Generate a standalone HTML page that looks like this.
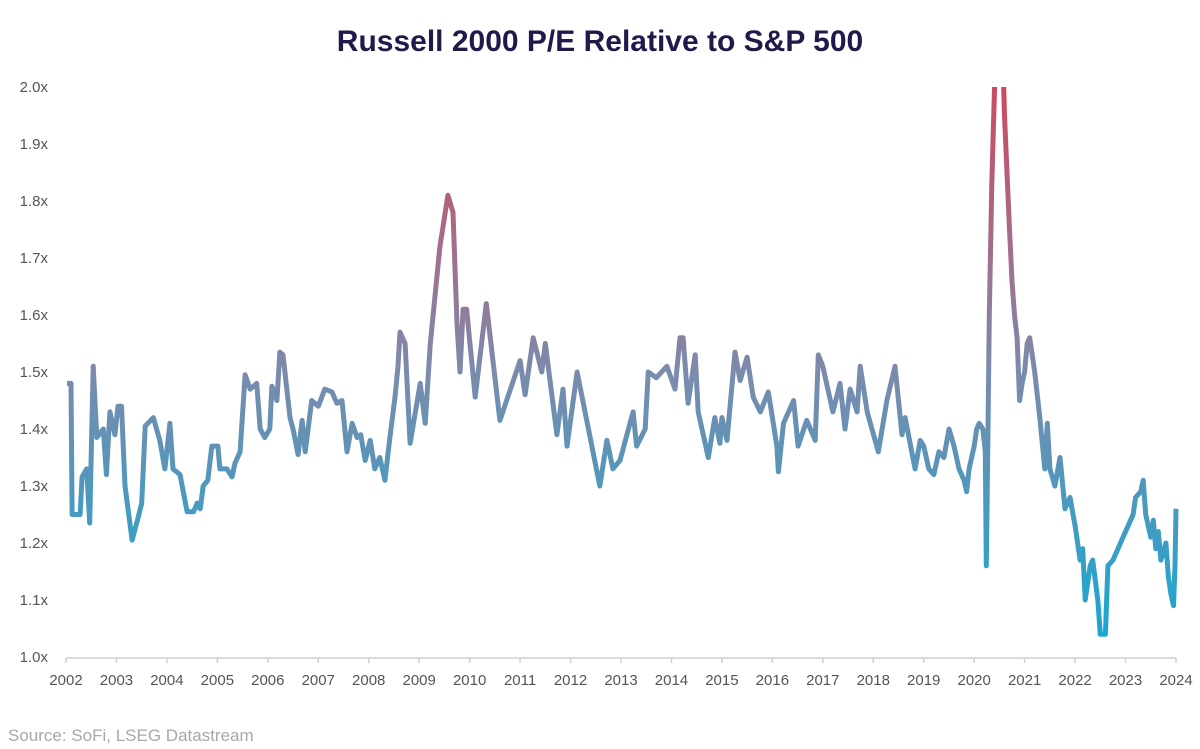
<!DOCTYPE html>
<html><head><meta charset="utf-8"><style>
body{margin:0;background:#fff;}
svg{display:block;font-family:"Liberation Sans",sans-serif;}
</style></head><body>
<svg id="chart" width="1200" height="749">
<defs>
<linearGradient id="lg" gradientUnits="userSpaceOnUse" x1="0" y1="87" x2="0" y2="657">
<stop offset="0" stop-color="#cc4a5e"/>
<stop offset="0.3" stop-color="#a0708f"/>
<stop offset="0.5" stop-color="#7b8bac"/>
<stop offset="1" stop-color="#12aad4"/>
</linearGradient>
<clipPath id="cp"><rect x="60" y="87" width="1130" height="575"/></clipPath>
</defs>
<text x="600" y="51" text-anchor="middle" font-size="30" font-weight="bold" fill="#1e1b4b">Russell 2000 P/E Relative to S&amp;P 500</text>
<g id="yaxis"></g>
<g id="xaxis"></g>
<g clip-path="url(#cp)"><path id="line" fill="none" stroke="url(#lg)" stroke-width="5" stroke-linejoin="round"/></g>
<text x="8" y="741" font-size="17" fill="#a8a8a8">Source: SoFi, LSEG Datastream</text>
</svg>
<script>
const yTicks=[1.0,1.1,1.2,1.3,1.4,1.5,1.6,1.7,1.8,1.9,2.0];
const years=[2002,2003,2004,2005,2006,2007,2008,2009,2010,2011,2012,2013,2014,2015,2016,2017,2018,2019,2020,2021,2022,2023,2024];
const dates=[2002.02,2002.1,2002.12,2002.28,2002.32,2002.41,2002.47,2002.54,2002.61,2002.74,2002.8,2002.87,2002.97,2003.03,2003.1,2003.17,2003.31,2003.43,2003.5,2003.57,2003.73,2003.86,2003.96,2004.06,2004.12,2004.26,2004.4,2004.53,2004.6,2004.66,2004.72,2004.81,2004.89,2005.01,2005.05,2005.19,2005.29,2005.35,2005.45,2005.55,2005.65,2005.78,2005.85,2005.94,2006.04,2006.08,2006.18,2006.24,2006.3,2006.44,2006.5,2006.6,2006.68,2006.74,2006.87,2007.0,2007.13,2007.27,2007.37,2007.47,2007.57,2007.67,2007.77,2007.84,2007.93,2008.03,2008.12,2008.22,2008.32,2008.42,2008.52,2008.58,2008.62,2008.72,2008.82,2009.02,2009.12,2009.22,2009.41,2009.57,2009.67,2009.75,2009.81,2009.87,2009.94,2010.11,2010.33,2010.6,2011.0,2011.1,2011.26,2011.43,2011.5,2011.73,2011.85,2011.93,2012.13,2012.58,2012.72,2012.84,2012.98,2013.24,2013.31,2013.48,2013.54,2013.7,2013.91,2014.07,2014.17,2014.23,2014.33,2014.47,2014.53,2014.73,2014.86,2014.96,2015.0,2015.1,2015.26,2015.36,2015.5,2015.62,2015.76,2015.92,2016.09,2016.12,2016.22,2016.42,2016.51,2016.68,2016.85,2016.91,2017.0,2017.2,2017.34,2017.44,2017.54,2017.68,2017.74,2017.88,2018.1,2018.27,2018.43,2018.57,2018.63,2018.83,2018.93,2019.0,2019.1,2019.2,2019.3,2019.4,2019.5,2019.6,2019.7,2019.8,2019.85,2019.9,2020.0,2020.05,2020.1,2020.17,2020.22,2020.24,2020.27,2020.3,2020.35,2020.38,2020.42,2020.57,2020.6,2020.65,2020.7,2020.75,2020.8,2020.85,2020.9,2020.95,2021.0,2021.05,2021.1,2021.15,2021.2,2021.3,2021.4,2021.45,2021.5,2021.6,2021.7,2021.8,2021.9,2022.0,2022.1,2022.15,2022.2,2022.3,2022.35,2022.45,2022.5,2022.6,2022.65,2022.75,2022.85,2022.95,2023.05,2023.15,2023.2,2023.3,2023.35,2023.4,2023.5,2023.55,2023.6,2023.65,2023.7,2023.8,2023.85,2023.9,2023.95,2023.98,2024.0];
const values=[1.48,1.48,1.25,1.25,1.316,1.33,1.235,1.51,1.385,1.40,1.32,1.43,1.39,1.44,1.44,1.30,1.205,1.245,1.27,1.405,1.42,1.38,1.33,1.41,1.33,1.32,1.255,1.255,1.27,1.26,1.30,1.31,1.37,1.37,1.33,1.33,1.316,1.34,1.36,1.495,1.47,1.48,1.40,1.385,1.40,1.475,1.45,1.535,1.53,1.42,1.40,1.355,1.415,1.36,1.45,1.44,1.47,1.465,1.445,1.45,1.36,1.41,1.385,1.39,1.345,1.38,1.33,1.35,1.31,1.385,1.456,1.51,1.57,1.55,1.375,1.48,1.41,1.55,1.72,1.81,1.78,1.585,1.50,1.61,1.61,1.456,1.62,1.415,1.52,1.46,1.56,1.50,1.55,1.39,1.47,1.37,1.50,1.30,1.38,1.33,1.345,1.43,1.37,1.40,1.50,1.49,1.51,1.47,1.56,1.56,1.445,1.53,1.43,1.35,1.42,1.375,1.42,1.38,1.535,1.485,1.526,1.456,1.43,1.465,1.37,1.325,1.41,1.45,1.37,1.415,1.38,1.53,1.51,1.43,1.48,1.40,1.47,1.43,1.51,1.43,1.36,1.45,1.51,1.39,1.42,1.33,1.38,1.37,1.33,1.32,1.36,1.35,1.40,1.37,1.33,1.31,1.29,1.33,1.37,1.40,1.41,1.40,1.36,1.16,1.37,1.60,1.83,1.93,2.05,2.05,1.95,1.85,1.75,1.66,1.60,1.56,1.45,1.48,1.50,1.55,1.56,1.53,1.50,1.42,1.33,1.41,1.33,1.30,1.35,1.26,1.28,1.23,1.17,1.19,1.10,1.16,1.17,1.10,1.04,1.04,1.16,1.17,1.19,1.21,1.23,1.25,1.28,1.29,1.31,1.25,1.21,1.24,1.19,1.22,1.17,1.20,1.14,1.11,1.09,1.16,1.26];
const X=t=>66+(t-2002)*(1176-66)/22;
const Y=v=>657-(v-1)*570;
const NS='http://www.w3.org/2000/svg';
const ya=document.getElementById('yaxis'), xa=document.getElementById('xaxis');
yTicks.forEach(v=>{
 const t=document.createElementNS(NS,'text');
 t.setAttribute('x',48);t.setAttribute('y',Y(v)+5);t.setAttribute('text-anchor','end');
 t.setAttribute('font-size','15');t.setAttribute('fill','#555');
 t.textContent=v.toFixed(1)+'x';
 
 
 ya.appendChild(t);
});
const ax=document.createElementNS(NS,'line');
ax.setAttribute('x1',X(2002));ax.setAttribute('x2',X(2024));ax.setAttribute('y1',658);ax.setAttribute('y2',658);
ax.setAttribute('stroke','#d0d0d0');ax.setAttribute('stroke-width','1.5');


xa.appendChild(ax);
years.forEach(yr=>{
 const l=document.createElementNS(NS,'line');
 l.setAttribute('x1',X(yr));l.setAttribute('x2',X(yr));l.setAttribute('y1',658);l.setAttribute('y2',663);
 l.setAttribute('stroke','#d0d0d0');l.setAttribute('stroke-width','1.5');
 
 
 xa.appendChild(l);
 const t=document.createElementNS(NS,'text');
 t.setAttribute('x',X(yr));t.setAttribute('y',685);t.setAttribute('text-anchor','middle');
 t.setAttribute('font-size','15');t.setAttribute('fill','#555');
 t.textContent=yr;
 
 
 xa.appendChild(t);
});
let d='';
dates.forEach((t,i)=>{d+=(i?'L':'M')+X(t).toFixed(1)+' '+Y(values[i]).toFixed(1);});
document.getElementById('line').setAttribute('d',d);
</script>
</body></html>
